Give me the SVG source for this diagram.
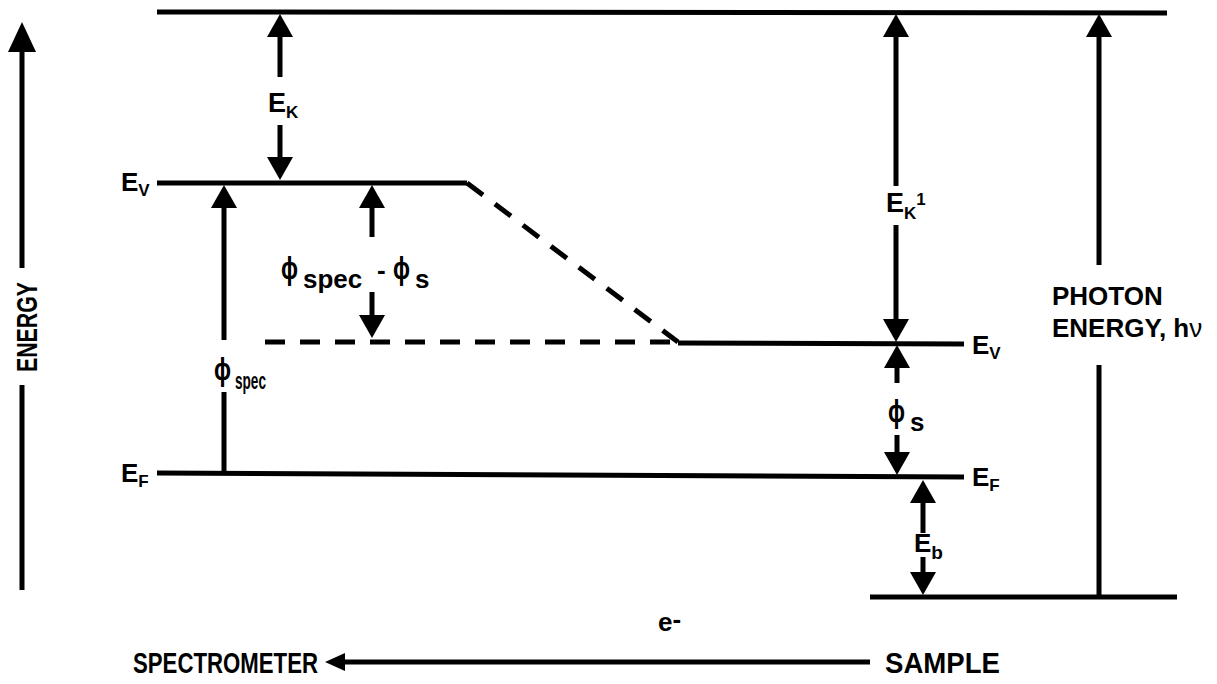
<svg xmlns="http://www.w3.org/2000/svg" width="1217" height="684" viewBox="0 0 1217 684">
<defs>
<marker id="ah" markerUnits="userSpaceOnUse" markerWidth="23" markerHeight="26" viewBox="0 0 23 26" refX="0" refY="13" orient="auto"><path d="M0,0 L23,13 L0,26 z" fill="#000"/></marker>
<marker id="ahL" markerUnits="userSpaceOnUse" markerWidth="30" markerHeight="28" viewBox="0 0 30 28" refX="0" refY="14" orient="auto"><path d="M0,0 L30,14 L0,28 z" fill="#000"/></marker>
<marker id="ahS" markerUnits="userSpaceOnUse" markerWidth="20" markerHeight="18" viewBox="0 0 20 18" refX="0" refY="9" orient="auto"><path d="M0,0 L20,9 L0,18 z" fill="#000"/></marker>
<style>
.lv{stroke:#000;stroke-width:5;fill:none}
.ds{stroke:#000;stroke-width:5;fill:none;stroke-dasharray:20 15}
.ar{stroke:#000;stroke-width:5;fill:none;marker-end:url(#ah)}
.ln{stroke:#000;stroke-width:5;fill:none}
text{font-family:"Liberation Sans","DejaVu Sans",Arial,sans-serif;font-weight:bold;fill:#000}
.e{font-size:27px}
.sub{font-size:17px}
.phi{font-size:32px}
.big{font-size:26px}
</style>
</defs>
<rect width="1217" height="684" fill="#fff"/>
<g id="levels">
<line id="top-level" class="lv" x1="157" y1="12" x2="1167" y2="13"/>
<polyline id="spec-ev" class="lv" points="157,183 467,183"/>
<line id="diag" class="ds" x1="467" y1="183" x2="678" y2="342"/>
<line id="dash-h" class="ds" x1="265" y1="342" x2="678" y2="342"/>
<line id="sample-ev" class="lv" x1="678" y1="343" x2="964" y2="344"/>
<line id="ef" class="lv" x1="157" y1="473" x2="964" y2="477"/>
<line id="core" class="lv" x1="870" y1="597" x2="1177" y2="597"/>
</g>
<g id="connectors">
<line class="ln" x1="22" y1="268" x2="22" y2="52" marker-end="url(#ahL)"/>
<line class="ln" x1="22" y1="385" x2="22" y2="590"/>
<line class="ar" x1="280" y1="77" x2="280" y2="37"/>
<line class="ar" x1="280" y1="125" x2="280" y2="157"/>
<line class="ar" x1="372" y1="237" x2="372" y2="208"/>
<line class="ar" x1="372" y1="292" x2="372" y2="315"/>
<line class="ar" x1="224" y1="340" x2="224" y2="208"/>
<line class="ln" x1="224" y1="392" x2="224" y2="473"/>
<line class="ar" x1="896" y1="186" x2="896" y2="37"/>
<line class="ar" x1="896" y1="225" x2="896" y2="319"/>
<line class="ar" x1="897" y1="383" x2="897" y2="368"/>
<line class="ar" x1="897" y1="435" x2="897" y2="452"/>
<line class="ar" x1="923" y1="533" x2="923" y2="503"/>
<line class="ar" x1="923" y1="557" x2="923" y2="572"/>
<line class="ln" x1="1099" y1="597" x2="1099" y2="365"/>
<line class="ar" x1="1099" y1="265" x2="1099" y2="37"/>
<line class="ln" x1="870" y1="662" x2="345" y2="662" marker-end="url(#ahS)"/>
</g>
<g id="labels">
<text id="energy-axis" transform="translate(37,327) rotate(-90)" text-anchor="middle" font-size="30" textLength="90" lengthAdjust="spacingAndGlyphs">ENERGY</text>
<text id="ek" x="268" y="112" class="e">E<tspan class="sub" dy="6">K</tspan></text>
<text id="ev-left" x="121" y="191" font-size="26">E<tspan class="sub" dy="5">V</tspan></text>
<text id="ef-left" x="121" y="482" font-size="26">E<tspan class="sub" dy="5">F</tspan></text>
<g id="phidiff">
<text x="281" y="279" class="phi" textLength="17" lengthAdjust="spacingAndGlyphs">ϕ</text>
<text x="303" y="288" font-size="26">spec</text>
<text x="377" y="279" font-size="26">-</text>
<text x="393" y="279" class="phi" textLength="17" lengthAdjust="spacingAndGlyphs">ϕ</text>
<text x="415" y="288" font-size="26">s</text>
</g>
<g id="phispec">
<text x="214" y="380" class="phi" textLength="17" lengthAdjust="spacingAndGlyphs">ϕ</text>
<text x="235" y="389" font-size="24" textLength="31" lengthAdjust="spacingAndGlyphs">spec</text>
</g>
<text id="ek1" x="886" y="212" class="e">E<tspan class="sub" dy="7">K</tspan><tspan class="sub" font-size="14" dy="-14">1</tspan></text>
<text id="ev-right" x="972" y="354" font-size="26">E<tspan class="sub" dy="5">V</tspan></text>
<text id="ef-right" x="972" y="486" font-size="26">E<tspan class="sub" dy="5">F</tspan></text>
<g id="phis">
<text x="888" y="422" class="phi" textLength="17" lengthAdjust="spacingAndGlyphs">ϕ</text>
<text x="910" y="431" font-size="26">s</text>
</g>
<text id="eb" x="914" y="552" font-size="26">E<tspan font-size="19" dy="7">b</tspan></text>
<text id="photon1" x="1052" y="305" class="big">PHOTON</text>
<text id="photon2" x="1052" y="337" class="big">ENERGY, h<tspan font-weight="normal">ν</tspan></text>
<text id="spectrometer" x="133" y="673" font-size="29" textLength="185" lengthAdjust="spacingAndGlyphs">SPECTROMETER</text>
<text id="sample" x="885" y="673" font-size="29" textLength="115" lengthAdjust="spacingAndGlyphs">SAMPLE</text>
<text id="electron" x="658" y="631" font-size="26" font-weight="normal">e<tspan dy="-3">-</tspan></text>
</g>
</svg>
